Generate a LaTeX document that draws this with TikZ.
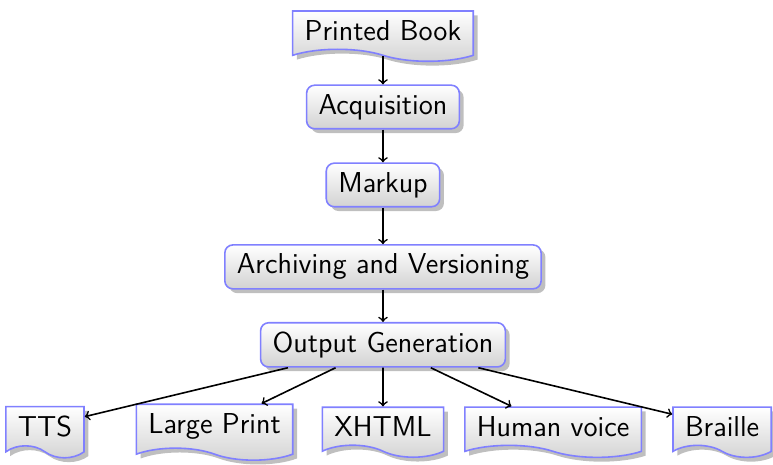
\documentclass[tikz,border=0pt]{standalone}
\usepackage{tikz}
\usetikzlibrary{positioning,arrows,shapes.symbols,shadows}
\tikzset{
    >=to,
    step box/.style = {
        draw=blue!50,
        shape=rectangle,
        rounded corners=4pt,
        inner xsep=6pt,
        inner ysep=4.5pt,
        top color=white,
        bottom color=gray!35,
        drop shadow,
        thick,
        font=\sffamily\Large
    },
    paper/.style = {
        draw=blue!50,
        shape=tape,
        tape bend top=none,
        tape bend bottom=out and in,
        tape bend height=6pt,
        inner xsep=6pt,
        inner ysep=4.5pt,
        top color=white,
        bottom color=gray!35,
        drop shadow,
        thick,
        font=\sffamily\Large
    },
    flow/.style = {
        draw,
        thick,
        ->
    },
}
\begin{document}
\begin{tikzpicture}
                \useasboundingbox (0,0) rectangle (13.584,-8.171);
                \node[paper] (book) at (6.73,-0.53) {Printed Book};
                \node[step box] (acq) at (6.73,-1.88) {Acquisition};
                \node[step box] (markup) at (6.73,-3.25) {Markup};
                \node[step box] (arch) at (6.73,-4.69) {Archiving and Versioning};
                \node[step box] (outgen) at (6.73,-6.06) {Output Generation};

                \node[paper] (tts) at (0.79,-7.49) {TTS};
                \node[paper] (large) at (3.77,-7.49) {Large Print};
                \node[paper] (xhtml) at (6.73,-7.49) {XHTML};
                \node[paper] (voice) at (9.72,-7.49) {Human voice};
                \node[paper] (braille) at (12.69,-7.49) {Braille};

                \path[flow] (book) -- (acq);
                \path[flow] (acq) -- (markup);
                \path[flow] (markup) -- (arch);
                \path[flow] (arch) -- (outgen);

                \path[flow] (outgen) -- (tts);
                \path[flow] (outgen) -- (large);
                \path[flow] (outgen) -- (xhtml);
                \path[flow] (outgen) -- (voice);
                \path[flow] (outgen) -- (braille);
            \end{tikzpicture}
\end{document}
